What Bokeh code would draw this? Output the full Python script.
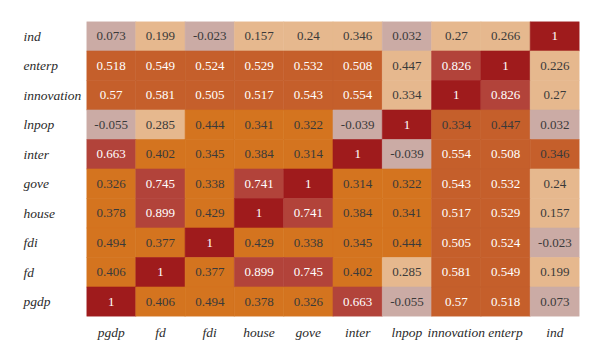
from bokeh.plotting import figure
from bokeh.models import ColumnDataSource, FactorRange, Range1d
from bokeh.layouts import row
from bokeh.transform import factor_cmap
from bokeh.embed import file_html
from bokeh.resources import INLINE
from bokeh.core.properties import value

# columns left -> right, rows top -> bottom
cols = ["pgdp", "fd", "fdi", "house", "gove", "inter", "lnpop", "innovation", "enterp", "ind"]
rows = ["ind", "enterp", "innovation", "lnpop", "inter", "gove", "house", "fdi", "fd", "pgdp"]

vals = [
    [0.073, 0.199, -0.023, 0.157, 0.24, 0.346, 0.032, 0.27, 0.266, 1],
    [0.518, 0.549, 0.524, 0.529, 0.532, 0.508, 0.447, 0.826, 1, 0.226],
    [0.57, 0.581, 0.505, 0.517, 0.543, 0.554, 0.334, 1, 0.826, 0.27],
    [-0.055, 0.285, 0.444, 0.341, 0.322, -0.039, 1, 0.334, 0.447, 0.032],
    [0.663, 0.402, 0.345, 0.384, 0.314, 1, -0.039, 0.554, 0.508, 0.346],
    [0.326, 0.745, 0.338, 0.741, 1, 0.314, 0.322, 0.543, 0.532, 0.24],
    [0.378, 0.899, 0.429, 1, 0.741, 0.384, 0.341, 0.517, 0.529, 0.157],
    [0.494, 0.377, 1, 0.429, 0.338, 0.345, 0.444, 0.505, 0.524, -0.023],
    [0.406, 1, 0.377, 0.899, 0.745, 0.402, 0.285, 0.581, 0.549, 0.199],
    [1, 0.406, 0.494, 0.378, 0.326, 0.663, -0.055, 0.57, 0.518, 0.073],
]

# colour class of each cell (P pink-grey, K peach, O orange, B brown-orange, M mid red, R dark red)
groups = [
    "PKPKKKPKKR",
    "BBBBBBKMRK",
    "BBBBBBKRMK",
    "PKOOOPRBBP",
    "MOOOORPBBB",
    "OMOMROOBBK",
    "OMORMOOBBK",
    "OOROOOOBBP",
    "OROMMOKBBK",
    "ROOOOMPBBP",
]

classes = ["P", "K", "O", "B", "M", "R"]
palette = ["#CBABA5", "#E6B88E", "#D4741F", "#C55F2B", "#B2433A", "#9F1B1C"]

xs, ys, vs, gs, labels, tcols = [], [], [], [], [], []
for i, r in enumerate(rows):
    for j, c in enumerate(cols):
        v = vals[i][j]
        xs.append(c)
        ys.append(r)
        vs.append(v)
        gs.append(groups[i][j])
        labels.append(f"{v:g}")
        tcols.append("#FFFFFF" if v >= 0.5 else "#3A3A3A")

src = ColumnDataSource(dict(x=xs, y=ys, v=vs, g=gs, label=labels, tcol=tcols))

SERIF = "Liberation Serif"
LABEL_COLOR = "#2B2B2B"

y_range = FactorRange(*list(reversed(rows)))

# ---- left column of row labels (left aligned) ----
lab = figure(
    x_range=Range1d(0, 1), y_range=y_range,
    width=86, height=352, frame_width=86, frame_height=295,
    min_border_left=0, min_border_right=0, min_border_top=21, min_border_bottom=36,
    output_backend="svg", toolbar_location=None,
)
lab.axis.visible = False
lab.grid.visible = False
lab.outline_line_color = None
ysrc = ColumnDataSource(dict(x=[0] * len(rows), y=rows, t=rows))
lab.text(x="x", y="y", text="t", source=ysrc, x_offset=23,
         text_align="left", text_baseline="middle",
         text_font=value(SERIF), text_font_style="italic",
         text_font_size="13.5px", text_color=LABEL_COLOR)

# ---- heatmap ----
p = figure(
    x_range=FactorRange(*cols), y_range=y_range,
    width=506, height=352,
    frame_width=493, frame_height=295,
    min_border_left=0, min_border_right=13, min_border_top=21, min_border_bottom=36,
    output_backend="svg", toolbar_location=None,
)
p.outline_line_color = None
p.grid.visible = False
p.yaxis.visible = False

cmap = factor_cmap("g", palette=palette, factors=classes)
p.rect(x="x", y="y", width=1, height=1, source=src,
       fill_color=cmap, line_color=cmap, line_width=0.6)

p.text(x="x", y="y", text="label", source=src, text_color="tcol",
       text_align="center", text_baseline="middle",
       text_font=value(SERIF), text_font_size="13px")

xa = p.xaxis[0]
xa.axis_line_color = None
xa.major_tick_line_color = None
xa.major_tick_out = 0
xa.major_tick_in = 0
xa.major_label_standoff = 8
xa.major_label_text_font = SERIF
xa.major_label_text_font_style = "italic"
xa.major_label_text_font_size = "13.5px"
xa.major_label_text_color = LABEL_COLOR

layout = row(lab, p)
open("out.html", "w").write(file_html(layout, INLINE))
